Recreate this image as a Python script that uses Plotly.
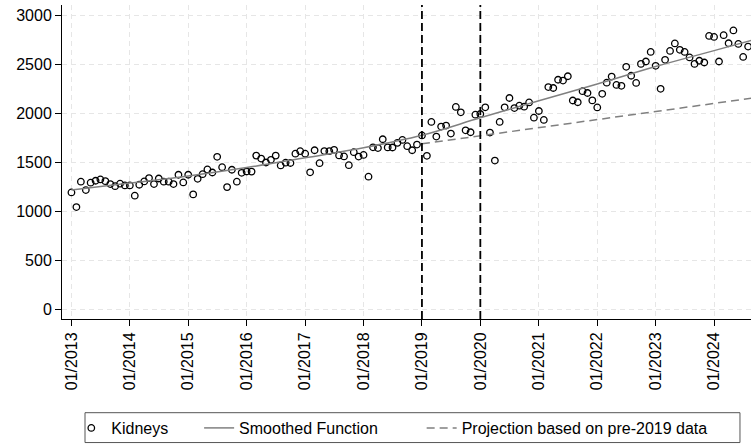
import pandas as pd
import plotly.graph_objects as go

# Monthly kidney counts, 01/2013 - 08/2024
months = pd.date_range("2013-01-01", "2024-08-01", freq="MS")
kidneys = [
    1195, 1046, 1304, 1219, 1294, 1314, 1327, 1310, 1280, 1259, 1284, 1266,  # 2013
    1266, 1162, 1273, 1307, 1341, 1280, 1337, 1304, 1304, 1280, 1375, 1297,  # 2014
    1375, 1175, 1334, 1381, 1429, 1398, 1558, 1452, 1249, 1426, 1304, 1395,  # 2015
    1408, 1407, 1570, 1540, 1500, 1527, 1570, 1470, 1498, 1495, 1590, 1615,  # 2016
    1590, 1400, 1625, 1493, 1616, 1615, 1629, 1572, 1562, 1473, 1605, 1560,  # 2017
    1577, 1355, 1655, 1647, 1737, 1654, 1653, 1700, 1730, 1666, 1625, 1683,  # 2018
    1776, 1568, 1913, 1764, 1866, 1876, 1795, 2066, 2011, 1828, 1808, 1987,  # 2019
    1994, 2062, 1805, 1520, 1913, 2062, 2157, 2055, 2079, 2069, 2112, 1957,  # 2020
    2025, 1934, 2269, 2259, 2343, 2335, 2379, 2132, 2114, 2227, 2208, 2133,  # 2021
    2061, 2200, 2313, 2376, 2290, 2281, 2475, 2384, 2311, 2505, 2529, 2627,  # 2022
    2485, 2251, 2546, 2637, 2713, 2648, 2627, 2571, 2505, 2537, 2519, 2790,  # 2023
    2780, 2529, 2797, 2715, 2846, 2708, 2576, 2681,                          # 2024
]

# Smoothed trend, sampled yearly
smooth_dates = ["2013-01-01", "2014-01-01", "2015-01-01", "2016-01-01", "2017-01-01",
                "2018-01-01", "2019-01-01", "2020-01-01", "2021-01-01", "2022-01-01",
                "2023-01-01", "2024-01-01", "2024-09-01"]
smooth_values = [1219, 1290, 1362, 1448, 1548, 1650, 1777, 1955, 2130, 2300,
                 2478, 2640, 2750]

# Linear projection fitted on data before 2019
proj_dates = ["2019-01-01", "2024-09-01"]
proj_values = [1690, 2157]

# Reference dates marked with vertical lines
event_dates = ["2019-01-01", "2020-01-01"]

FONT = "Liberation Sans, Arial, Helvetica, sans-serif"
GRAY = "#808080"

fig = go.Figure()

fig.add_trace(go.Scatter(
    x=months, y=kidneys, mode="markers", name="Kidneys",
    marker=dict(symbol="circle-open", size=6.5, color="black", line=dict(width=1.3)),
    legend="legend", showlegend=True,
))
fig.add_trace(go.Scatter(
    x=smooth_dates, y=smooth_values, mode="lines", name="Smoothed Function",
    line=dict(color=GRAY, width=1.5, shape="spline", smoothing=1.0),
    legend="legend2", showlegend=True,
))
fig.add_trace(go.Scatter(
    x=proj_dates, y=proj_values, mode="lines", name="Projection based on pre-2019 data",
    line=dict(color=GRAY, width=1.5, dash="8px,5px"),
    legend="legend3", showlegend=True,
))

for d in event_dates:
    fig.add_shape(type="line", xref="x", yref="paper", x0=d, x1=d, y0=0, y1=1,
                  line=dict(color="black", width=1.8, dash="8px,4px"), layer="above")

# Frame around the legend row
fig.add_shape(type="rect", xref="paper", yref="paper",
              x0=0.0334, x1=0.984, y0=-0.3935, y1=-0.2984,
              line=dict(color="#555555", width=1), fillcolor="rgba(0,0,0,0)")

legend_common = dict(orientation="h", yanchor="middle", xanchor="left", y=-0.348,
                     bgcolor="rgba(0,0,0,0)", borderwidth=0,
                     font=dict(family=FONT, size=16, color="black"))

fig.update_layout(
    width=751, height=445, autosize=False,
    margin=dict(l=62, r=0, t=5, b=125, pad=0),
    paper_bgcolor="white", plot_bgcolor="white",
    font=dict(family=FONT, size=16, color="black"),
    showlegend=True,
    legend=dict(x=0.0135, **legend_common),
    legend2=dict(x=0.199, **legend_common),
    legend3=dict(x=0.522, **legend_common),
    xaxis=dict(
        type="date", range=["2012-11-03", "2024-08-19"],
        dtick="M12", tick0="2013-01-01", tickformat="%m/%Y", tickangle=-90,
        ticks="outside", ticklen=6, tickcolor="black", tickwidth=1,
        showline=True, linecolor="black", linewidth=1, mirror=False,
        showgrid=True, gridcolor="#e6e6e6", gridwidth=1, griddash="5px,4px",
        zeroline=False, tickfont=dict(family=FONT, size=16, color="black"),
    ),
    yaxis=dict(
        range=[-95, 3105], tickvals=[0, 500, 1000, 1500, 2000, 2500, 3000],
        ticks="outside", ticklen=6, tickcolor="black", tickwidth=1,
        showline=True, linecolor="black", linewidth=1, mirror=False,
        showgrid=True, gridcolor="#e6e6e6", gridwidth=1, griddash="5px,4px",
        zeroline=False, tickfont=dict(family=FONT, size=16, color="black"),
    ),
)

fig.write_html("out.html")
